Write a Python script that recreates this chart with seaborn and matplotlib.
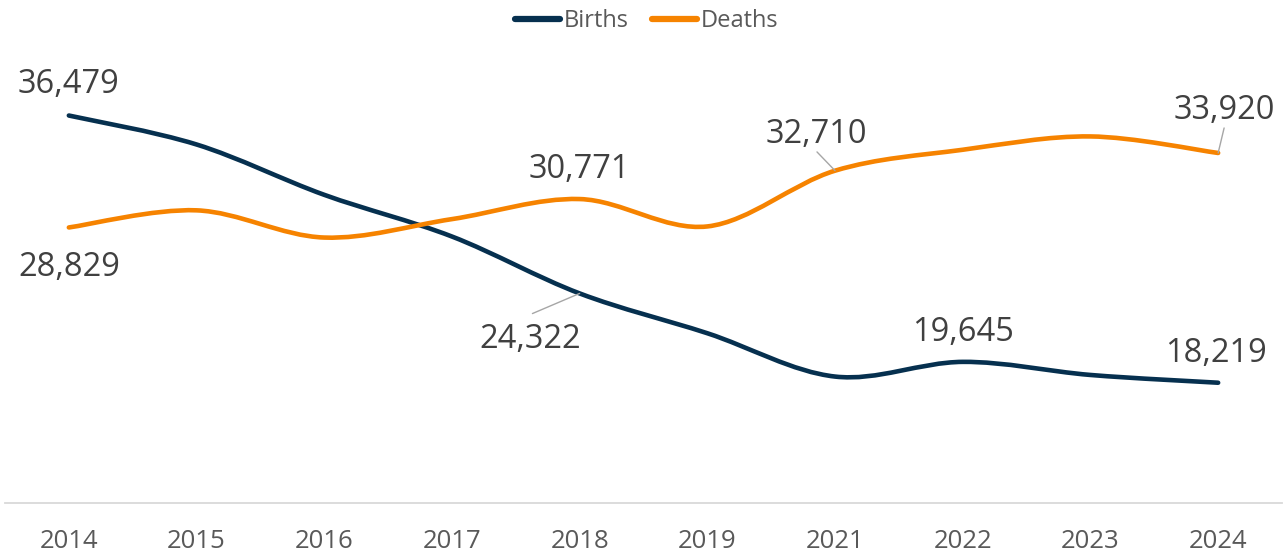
import numpy as np
import pandas as pd
import matplotlib.pyplot as plt
import seaborn as sns
from matplotlib.path import Path
from matplotlib.patches import PathPatch

# Data
years = ['2014', '2015', '2016', '2017', '2018', '2019', '2021', '2022', '2023', '2024']
births = [36479, 34500, 31060, 28210, 24322, 21600, 18640, 19645, 18750, 18219]
deaths = [28829, 30000, 28140, 29400, 30771, 28900, 32710, 34140, 35050, 33920]
series = ['Births', 'Deaths']
colors = {'Births': '#06304f', 'Deaths': '#f68300'}

values = {'Births': births, 'Deaths': deaths}
df = pd.DataFrame({
    'year': years * 2,
    'value': births + deaths,
    'series': ['Births'] * len(years) + ['Deaths'] * len(years),
})

# which points get a value label: (series, year, text offset pt, leader offset pt)
point_labels = [
    ('Births', '2014', (0, 22), None),
    ('Deaths', '2014', (0, -28.5), None),
    ('Births', '2018', (-35.3, -33), (-34, -14.5)),
    ('Deaths', '2018', (0, 21.3), None),
    ('Deaths', '2021', (-13.7, 26.3), (-13, 13.5)),
    ('Births', '2022', (0, 21.3), None),
    ('Births', '2024', (-1.4, 21.3), None),
    ('Deaths', '2024', (4.3, 30.5), (4.3, 18)),
]


def smooth_path(x, y):
    # Excel-like smoothed line: cubic bezier through every point
    pts = np.column_stack([x, y]).astype(float)
    n = len(pts)
    verts = [pts[0]]
    codes = [Path.MOVETO]
    for i in range(n - 1):
        p0 = pts[max(i - 1, 0)]
        p1 = pts[i]
        p2 = pts[i + 1]
        p3 = pts[min(i + 2, n - 1)]
        verts += [p1 + (p2 - p0) / 6, p2 - (p3 - p1) / 6, p2]
        codes += [Path.CURVE4] * 3
    return Path(verts, codes)


sns.set_theme(style='white')
plt.rcParams['font.family'] = ['Open Sans', 'DejaVu Sans']

fig, ax = plt.subplots(figsize=(12.87, 5.52), dpi=100)
fig.subplots_adjust(left=5 / 1287, right=1282 / 1287, bottom=49 / 552, top=488 / 552)

sns.lineplot(data=df, x='year', y='value', hue='series', palette=colors,
             linewidth=3.3, sort=False, ax=ax)

# swap the straight segments for smoothed curves
for line in ax.lines:
    line.set_visible(False)
xpos = np.arange(len(years))
for name in series:
    patch = PathPatch(smooth_path(xpos, values[name]), facecolor='none',
                      edgecolor=colors[name], lw=3.3, capstyle='round', joinstyle='round')
    ax.add_patch(patch)

ax.set_xlim(-0.5, len(years) - 0.5)
ax.set_ylim(10000, 40000)
ax.set_yticks([])
ax.set_xlabel('')
ax.set_ylabel('')
sns.despine(ax=ax, left=True)
ax.spines['bottom'].set_color('#d9d9d9')
ax.spines['bottom'].set_linewidth(1.3)
ax.tick_params(axis='x', length=0, pad=18.5, labelsize=18.5, labelcolor='#595959')

for name, year, off, lead in point_labels:
    i = years.index(year)
    v = values[name][i]
    if lead is not None:
        ax.annotate('', xy=(i, v), xytext=lead, textcoords='offset points',
                    arrowprops=dict(arrowstyle='-', color='#a6a6a6', lw=1,
                                    shrinkA=0, shrinkB=0))
    ax.annotate(f'{v:,}', xy=(i, v), xytext=off, textcoords='offset points',
                ha='center', va='center', fontsize=23.5, color='#404040')

sns.move_legend(ax, 'center', bbox_to_anchor=(647 / 1287, 1 - 21 / 552),
                bbox_transform=fig.transFigure, ncol=2, frameon=False, title=None,
                fontsize=17, handlelength=1.9, handletextpad=0.15, columnspacing=1.0)
leg = ax.get_legend()
for h in leg.get_lines():
    h.set_linewidth(4.5)
    h.set_solid_capstyle('round')
for t in leg.get_texts():
    t.set_color('#595959')

fig.savefig('out.png', dpi=100)
